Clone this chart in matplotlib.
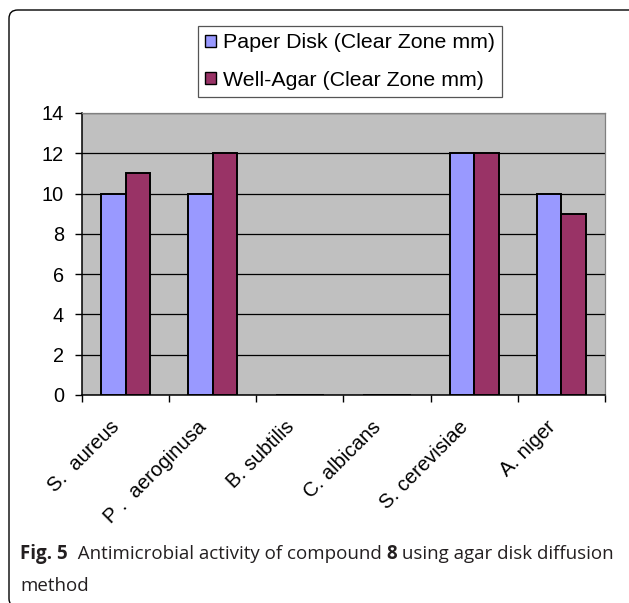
"""
antimicrobial activity bar chart (fig. 5)
"""
import matplotlib
matplotlib.use("Agg")
import matplotlib.pyplot as plt
from matplotlib.patches import FancyBboxPatch, Patch
from matplotlib.transforms import ScaledTranslation
import numpy as np

# ---------------------------------------------------------------- data ---- #
organisms = ["S.  aureus", "P .  aeroginusa", "B. subtilis", "C. albicans",
             "S. cerevisiae", "A. niger"]
paper_disk = [10, 10, 0, 0, 12, 10]
well_agar = [11, 12, 0, 0, 12, 9]
series_names = ["Paper Disk (Clear Zone mm)", "Well-Agar (Clear Zone mm)"]
y_ticks = [0, 2, 4, 6, 8, 10, 12, 14]

# --------------------------------------------------------------- style ---- #
BLUE = "#9999FF"
MAROON = "#993366"
PLOT_BG = "#C0C0C0"
W, H = 629, 603

plt.rcParams["font.family"] = ["Liberation Sans", "DejaVu Sans"]

fig = plt.figure(figsize=(W / 100, H / 100), dpi=100)
ax = fig.add_axes([82 / W, 1 - 395 / H, (605 - 82) / W, (395 - 113) / H])
ax.set_facecolor(PLOT_BG)

x = np.arange(len(organisms))
bw = 0.28
ax.bar(x - bw / 2, paper_disk, bw, color=BLUE, edgecolor="black",
       linewidth=1.4, zorder=3)
ax.bar(x + bw / 2, well_agar, bw, color=MAROON, edgecolor="black",
       linewidth=1.4, zorder=3)

ax.set_xlim(-0.5, len(organisms) - 0.5)
ax.set_ylim(0, 14)
ax.set_yticks(y_ticks)
ax.yaxis.grid(True, color="black", linewidth=0.9, zorder=1)
ax.set_axisbelow(True)

# boundary ticks on the major locator, labels on the minor one
ax.set_xticks(np.arange(-0.5, len(organisms)), [""] * (len(organisms) + 1))
ax.set_xticks(x, organisms, minor=True)
ax.tick_params(axis="x", which="major", direction="out", length=5,
               width=1, color="black")
ax.tick_params(axis="x", which="minor", length=0, pad=21, labelsize=14.6)
ax.tick_params(axis="y", direction="out", length=5, width=1,
               labelsize=14.3, pad=8)
shift = ScaledTranslation(-9 / 100, 0, fig.dpi_scale_trans)
for lab in ax.get_xticklabels(minor=True):
    lab.set_rotation(45)
    lab.set_ha("right")
    lab.set_va("center")
    lab.set_rotation_mode("anchor")
    lab.set_transform(lab.get_transform() + shift)

for side in ("left", "bottom"):
    ax.spines[side].set_color("black")
    ax.spines[side].set_linewidth(1.1)
for side in ("top", "right"):
    ax.spines[side].set_color("#808080")
    ax.spines[side].set_linewidth(0.9)

handles = [Patch(facecolor=BLUE, edgecolor="black", linewidth=1),
           Patch(facecolor=MAROON, edgecolor="black", linewidth=1)]
leg = fig.legend(handles, series_names, loc="upper center",
                 bbox_to_anchor=(350 / W, 1 - 26 / H), fontsize=15.4,
                 handlelength=0.5, handleheight=0.5, handletextpad=0.3,
                 labelspacing=0.85, borderpad=0.35, borderaxespad=0,
                 fancybox=False, framealpha=1)
leg.get_frame().set_edgecolor("#555555")
leg.get_frame().set_linewidth(0.9)

# outer rounded frame (runs off the right and bottom edges)
frame = FancyBboxPatch((9 / W, -4 / H), 1.1, (H - 10 + 4) / H,
                       boxstyle="round,pad=0,rounding_size=0.014",
                       transform=fig.transFigure, facecolor="none",
                       edgecolor="black", linewidth=1.0)
fig.patches.append(frame)


# --------------------------------------------------------------- caption -- #
def chain_text(x0, y0, parts, **kw):
    """write text pieces one after another on the same baseline"""
    renderer = fig.canvas.get_renderer()
    xpos = x0
    for txt, weight in parts:
        t = fig.text(xpos, y0, txt, fontweight=weight, va="baseline", **kw)
        bb = t.get_window_extent(renderer=renderer)
        xpos = bb.x1 / W


cap_kw = dict(family=["Open Sans", "DejaVu Sans"], fontsize=13.5,
              color="#231F20")
chain_text(20 / W, 1 - 559 / H,
           [("Fig. 5", "bold"),
            ("  Antimicrobial activity of compound ", "normal"),
            ("8", "bold"),
            (" using agar disk diffusion", "normal")], **cap_kw)
fig.text(20 / W, 1 - 591 / H, "method", va="baseline", **cap_kw)

fig.savefig("out.png", dpi=100)
